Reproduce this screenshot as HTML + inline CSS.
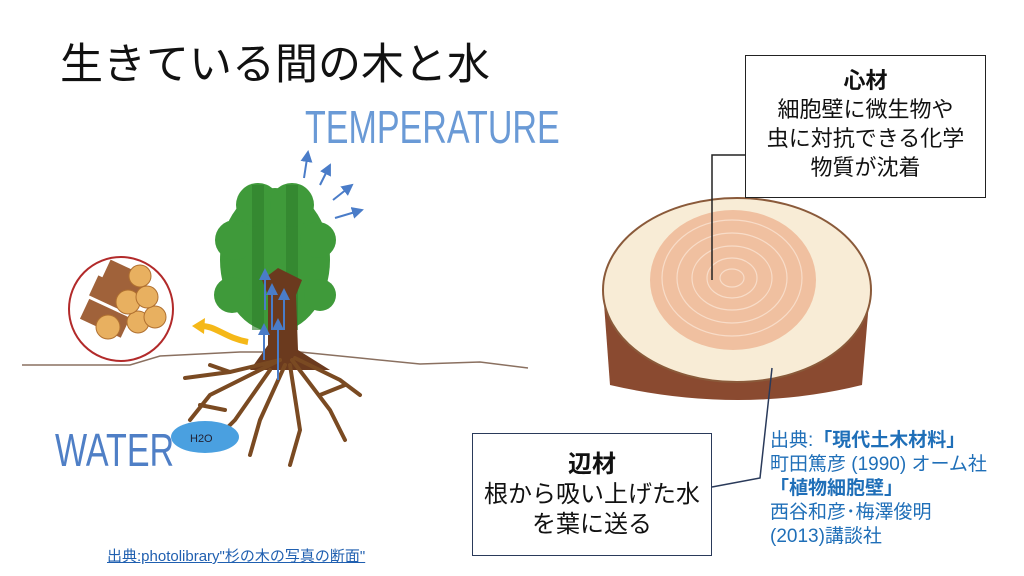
<!DOCTYPE html>
<html><head><meta charset="utf-8"><style>
body{margin:0;width:1024px;height:576px;background:#fff;position:relative;overflow:hidden;font-family:"Liberation Sans","Noto Sans CJK JP",sans-serif}
.a{position:absolute;white-space:nowrap}
</style></head><body>
<div class="a" style="left:60px;top:30px;font-size:43px;color:#111">生きている間の木と水</div>
<div class="a" style="left:305px;top:100px;font-size:46px;color:#6a9ad6;transform:scaleX(0.74);transform-origin:left">TEMPERATURE</div>
<div class="a" style="left:55px;top:423px;font-size:46px;color:#4f7fc6;transform:scaleX(0.74);transform-origin:left">WATER</div>
<svg class="a" style="left:0;top:0" width="1024" height="576">
<defs><marker id="ar" markerWidth="6" markerHeight="6" refX="5" refY="3" orient="auto"><path d="M0,0L6,3L0,6z" fill="#4a7cc8"/></marker></defs>
<path d="M22,365 L130,365 L160,356 L240,352 L300,352 L360,358 L420,364 L480,362 L528,368" stroke="#8a7060" stroke-width="1.5" fill="none"/>
<circle cx="121" cy="309" r="52" fill="#fff" stroke="#b22a2a" stroke-width="2"/>
<g fill="#a0623a"><rect x="83" y="305" width="45" height="22" transform="rotate(25 100 316)"/><rect x="92" y="282" width="45" height="22" transform="rotate(25 110 293)"/><rect x="105" y="265" width="40" height="20" transform="rotate(25 120 275)"/></g>
<g fill="#e8b060" stroke="#b07030"><circle cx="108" cy="327" r="12"/><circle cx="138" cy="322" r="11"/><circle cx="155" cy="317" r="11"/><circle cx="128" cy="302" r="12"/><circle cx="147" cy="297" r="11"/><circle cx="140" cy="276" r="11"/></g>
<path d="M248,342 C225,338 215,325 200,326" stroke="#f5b818" stroke-width="6" fill="none"/>
<path d="M192,326 L205,318 L204,334z" fill="#f5b818"/>
<g fill="#3f9a3a"><ellipse cx="275" cy="260" rx="55" ry="72"/><circle cx="258" cy="205" r="22"/><circle cx="292" cy="205" r="22"/><circle cx="235" cy="240" r="20"/><circle cx="318" cy="240" r="18"/><circle cx="232" cy="295" r="18"/><circle cx="320" cy="295" r="16"/></g>
<g fill="#2f7e2c" opacity="0.6"><rect x="252" y="185" width="12" height="145"/><rect x="286" y="185" width="12" height="145"/></g>
<path d="M262,280 L278,268 L302,280 L296,295 L298,350 L330,370 L250,370 L268,345 L268,295z" fill="#6b3a1e"/>
<g stroke="#7a4a22" stroke-width="4" fill="none" stroke-linecap="round">
<path d="M280,360 L230,372 L185,378"/><path d="M280,360 L210,395 L190,420"/><path d="M270,370 L235,420 L215,440"/><path d="M285,365 L260,420 L250,455"/><path d="M290,365 L300,430 L290,465"/><path d="M292,360 L330,410 L345,440"/><path d="M295,358 L340,380 L360,395"/><path d="M230,372 L210,365"/><path d="M225,410 L200,405"/><path d="M320,395 L345,385"/><path d="M215,440 L235,435"/>
</g>
<ellipse cx="205" cy="437" rx="34" ry="16" fill="#4aa0e0"/>
<text x="190" y="442" font-size="11" fill="#223" font-family="Liberation Sans">H2O</text>
<g stroke="#4a7cc8" stroke-width="2" marker-end="url(#ar)">
<line x1="265" y1="310" x2="265" y2="270"/><line x1="272" y1="330" x2="272" y2="285"/><line x1="284" y1="330" x2="284" y2="290"/><line x1="264" y1="360" x2="264" y2="325"/><line x1="278" y1="380" x2="278" y2="320"/>
<line x1="304" y1="178" x2="308" y2="152"/><line x1="320" y1="185" x2="330" y2="165"/><line x1="333" y1="200" x2="352" y2="185"/><line x1="335" y1="218" x2="362" y2="210"/>
</g>
<path d="M603,290 L610,385 Q740,415 862,385 L870,290z" fill="#8a4a30"/>
<ellipse cx="737" cy="290" rx="134" ry="92" fill="#f8ecd6" stroke="#8a5a3a" stroke-width="2"/>
<ellipse cx="733" cy="280" rx="83" ry="70" fill="#f0c0a0"/>
<g fill="none" stroke="#f8dcc8" stroke-width="1.2"><ellipse cx="732" cy="278" rx="70" ry="58"/><ellipse cx="732" cy="278" rx="55" ry="45"/><ellipse cx="732" cy="278" rx="40" ry="32"/><ellipse cx="732" cy="278" rx="25" ry="20"/><ellipse cx="732" cy="278" rx="12" ry="9"/></g>
<polyline points="745,155 712,155 712,280" fill="none" stroke="#222" stroke-width="1.5"/>
<polyline points="712,487 760,478 772,368" fill="none" stroke="#2a3a5a" stroke-width="1.5"/>
</svg>
<div class="a" style="left:745px;top:55px;width:241px;height:143px;border:1.5px solid #222;background:#fff;text-align:center;font-size:22px;line-height:29px;color:#111;white-space:normal;box-sizing:border-box;padding-top:10px"><b>心材</b><br>細胞壁に微生物や<br>虫に対抗できる化学<br>物質が沈着</div>
<div class="a" style="left:472px;top:433px;width:240px;height:123px;border:1.5px solid #2a3a5a;background:#fff;text-align:center;font-size:24px;line-height:30px;color:#111;box-sizing:border-box;padding-top:16px"><b>辺材</b><br>根から吸い上げた水<br>を葉に送る</div>
<div class="a" style="left:770px;top:429px;font-size:19px;line-height:24px;color:#1f6fb8">出典:<b>「現代土木材料」</b><br>町田篤彦 (1990) オーム社<br><b>「植物細胞壁」</b><br>西谷和彦･梅澤俊明<br>(2013)講談社</div>
<div class="a" style="left:107px;top:545px;font-size:15px;color:#1f5fb0;text-decoration:underline">出典:photolibrary"杉の木の写真の断面"</div>
</body></html>
